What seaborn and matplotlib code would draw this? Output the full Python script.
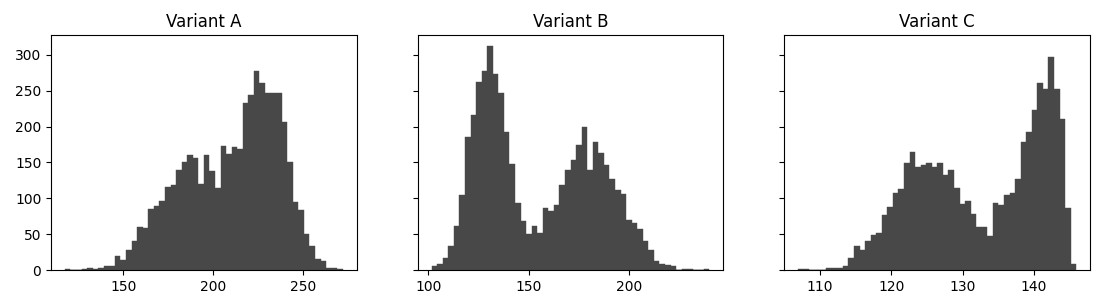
import numpy as np
import pandas as pd
import matplotlib
matplotlib.use("Agg")
import matplotlib.pyplot as plt
import seaborn as sns

titles = ["Variant A", "Variant B", "Variant C"]

# bin ranges (min, max) for each variant, 50 equal bins
range_a = (117.5, 272.0)
range_b = (101.7, 240.2)
range_c = (107.0, 145.9)

counts_a = [1, 0, 0, 2, 3, 2, 3, 6, 6, 20, 14, 28, 40, 60, 59, 85, 89, 96, 116, 118,
            140, 150, 161, 156, 120, 160, 138, 115, 173, 162, 171, 168, 233, 244, 277,
            261, 247, 247, 247, 207, 151, 95, 83, 50, 34, 15, 13, 3, 3, 1]
counts_b = [6, 9, 17, 34, 62, 104, 185, 216, 262, 278, 312, 273, 247, 193, 148, 93, 68,
            50, 62, 51, 87, 82, 90, 118, 140, 153, 174, 199, 140, 178, 163, 146, 127,
            111, 106, 70, 66, 57, 40, 28, 13, 9, 7, 6, 0, 1, 1, 0, 0, 1]
counts_c = [1, 2, 0, 0, 0, 3, 3, 3, 6, 17, 34, 28, 40, 49, 52, 76, 88, 107, 113, 149,
            164, 144, 146, 149, 144, 149, 132, 140, 115, 92, 96, 78, 60, 60, 48, 94, 90,
            104, 107, 127, 179, 193, 223, 260, 253, 297, 253, 211, 87, 8]

n_bins = 50
bar_color = "#484848"

fig, axes = plt.subplots(1, 3, figsize=(11, 3.07), dpi=100, sharey=True)
fig.subplots_adjust(left=0.0464, right=0.991, top=0.886, bottom=0.1205, wspace=0.2)

for ax, title, rng, counts in zip(axes, titles,
                                   [range_a, range_b, range_c],
                                   [counts_a, counts_b, counts_c]):
    edges = np.linspace(rng[0], rng[1], n_bins + 1)
    centers = (edges[:-1] + edges[1:]) / 2
    df = pd.DataFrame({"x": centers, "w": np.asarray(counts, dtype=float)})
    sns.histplot(data=df, x="x", weights="w", bins=list(edges), ax=ax,
                 element="step", fill=True, color=bar_color, alpha=1,
                 linewidth=0.3)
    ax.set_xlim(rng[0] - 0.05 * (rng[1] - rng[0]), rng[1] + 0.05 * (rng[1] - rng[0]))
    ax.set_title(title, fontsize=12)
    ax.set_xlabel("")
    ax.set_ylabel("")
    for s in ax.spines.values():
        s.set_visible(True)
        s.set_color("black")
        s.set_linewidth(0.8)
    ax.grid(False)

axes[0].set_yticks([0, 50, 100, 150, 200, 250, 300])
axes[0].set_ylim(0, 312 * 1.05)
axes[0].set_xticks([150, 200, 250])
axes[1].set_xticks([100, 150, 200])
axes[2].set_xticks([110, 120, 130, 140])

fig.savefig("out.png", dpi=100)
